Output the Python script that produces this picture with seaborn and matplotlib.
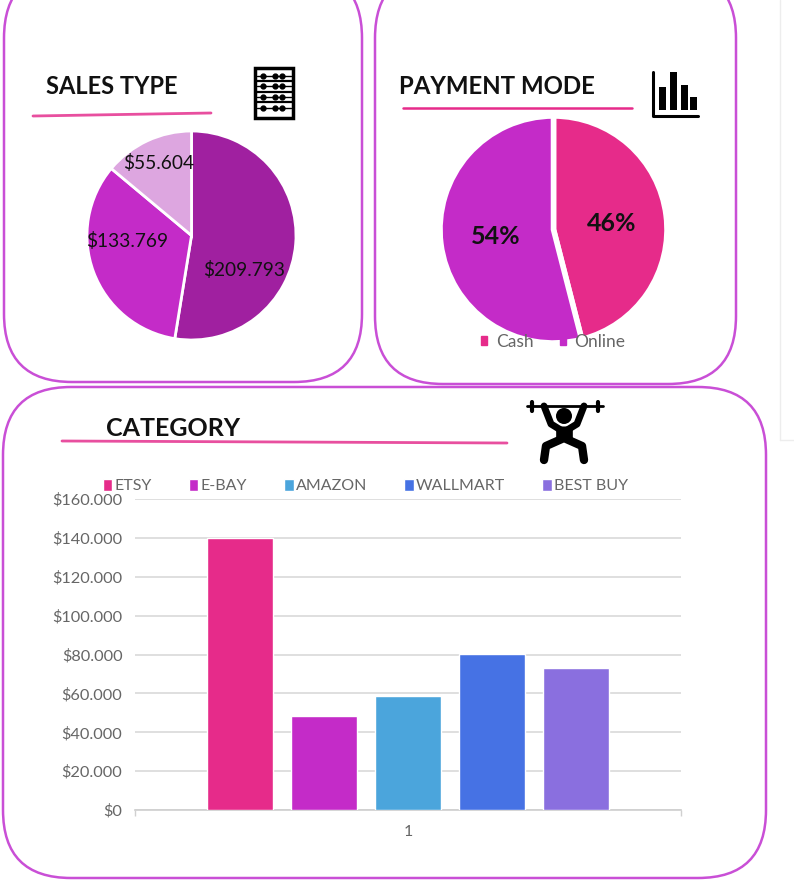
import matplotlib
matplotlib.use("Agg")
import matplotlib.pyplot as plt
import seaborn as sns
import pandas as pd
from matplotlib.patches import FancyBboxPatch, Rectangle, Circle, Patch

# values
sales_types = ["A", "B", "C"]
sales_values = [209793, 133769, 55604]
sales_labels = ["$209.793", "$133.769", "$55.604"]
sales_colors = ["#A020A0", "#C42BC8", "#DDA6E0"]

pay_modes = ["Cash", "Online"]
pay_values = [46, 54]
pay_colors = ["#E62B8A", "#C42BC8"]

shops = ["ETSY", "E-BAY", "AMAZON", "WALLMART", "BEST BUY"]
shop_sales = [140000, 48500, 58500, 80500, 73000]
shop_colors = ["#E62B8A", "#C42BC8", "#4BA5DC", "#4672E4", "#8A6FDF"]
y_ticks = [0, 20000, 40000, 60000, 80000, 100000, 120000, 140000, 160000]
y_labels = ["$0", "$20.000", "$40.000", "$60.000", "$80.000", "$100.000", "$120.000", "$140.000", "$160.000"]

W, H = 794, 891
sns.set_theme(style="white")
plt.rcParams['font.family'] = ['Lato', 'DejaVu Sans']

fig = plt.figure(figsize=(W / 100, H / 100), dpi=100, facecolor="white")


def axes_px(x0, y0, x1, y1):
    # axes from pixel box, y measured from the top
    return fig.add_axes([x0 / W, 1 - y1 / H, (x1 - x0) / W, (y1 - y0) / H])


# background layer for cards, headings and icons
bg = axes_px(0, 0, W, H)
bg.set_xlim(0, W)
bg.set_ylim(H, 0)
bg.axis("off")

card_color = "#C94FD6"


def card(x0, y0, x1, y1, r=68):
    bg.add_patch(FancyBboxPatch((x0 + r, y0 + r), x1 - x0 - 2 * r, y1 - y0 - 2 * r,
                                boxstyle=f"round,pad={r},rounding_size={r}",
                                fc="white", ec=card_color, lw=1.8, clip_on=True))


card(4, -30, 362, 382)
card(375, -30, 736, 384)
card(3, 387, 766, 878)

# faint page edge on the right
bg.plot([780, 780], [0, 440], color="#EDEDED", lw=1)
bg.plot([780, 794], [440, 440], color="#EDEDED", lw=1)

# headings
bg.text(46, 87, "SALES TYPE", fontsize=17, fontweight="bold", color="#111111", va="center")
bg.text(399, 87, "PAYMENT MODE", fontsize=17.3, fontweight="bold", color="#111111", va="center")
bg.text(106, 428, "CATEGORY", fontsize=18, fontweight="bold", color="#111111", va="center")
bg.plot([33, 211], [116, 113], color="#E84F9F", lw=2)
bg.plot([403, 632], [108, 108], color="#E62B8A", lw=1.8)
bg.plot([62, 507], [441, 443], color="#E84F9F", lw=2)

# abacus icon
bg.add_patch(Rectangle((255, 68), 38, 50, fc="white", ec="black", lw=2.5))
for y in [76, 86, 97, 108]:
    bg.plot([257, 291], [y, y], color="black", lw=1)
    bg.plot([263, 275, 282], [y, y, y], ls="none", marker="o", ms=3.5, color="black")
for y in [81, 92, 102]:
    bg.plot([256, 292], [y, y], color="black", lw=1.6)

# bar chart icon
bg.plot([653, 653, 698], [72, 116, 116], color="black", lw=2.2)
for x, top in [(663, 87), (674, 72), (685, 85), (694, 97)]:
    bg.add_patch(Rectangle((x - 4, top), 7, 110 - top, fc="black", ec="none"))

# weightlifter icon
bg.plot([527, 603], [406, 406], color="black", lw=2)
bg.plot([532, 532], [402, 411], color="black", lw=3)
bg.plot([598, 598], [402, 411], color="black", lw=3)
bg.add_patch(Circle((564, 416), 8, fc="black", ec="none"))
bg.plot([544, 551, 564, 577, 584], [406, 424, 432, 424, 406], color="black", lw=5, solid_joinstyle="round")
bg.plot([564, 564], [426, 440], color="black", lw=12, solid_capstyle="butt")
bg.plot([544, 546, 564, 582, 584], [460, 446, 438, 446, 460], color="black", lw=6, solid_joinstyle="round")

# sales type pie
ax1 = axes_px(87, 131, 296, 340)
ax1.pie(sales_values, colors=sales_colors, startangle=90, counterclock=False,
        wedgeprops={"edgecolor": "white", "linewidth": 2})
ax1.set_xlim(-1, 1)
ax1.set_ylim(-1, 1)
label_pos = [(0.5, -0.33), (-0.62, -0.05), (-0.31, 0.69)]
for lab, (x, y) in zip(sales_labels, label_pos):
    ax1.text(x, y, lab, ha="center", va="center", fontsize=13.8, color="#111111")

# payment mode pie
ax2 = axes_px(439, 116, 668, 343)
wedges, _ = ax2.pie(pay_values, colors=pay_colors, startangle=90, counterclock=False,
                    wedgeprops={"edgecolor": "white", "linewidth": 4})
ax2.set_xlim(-1, 1)
ax2.set_ylim(-1, 1)
ax2.text(0.51, 0.05, "46%", ha="center", va="center", fontsize=18, fontweight="bold", color="#111111")
ax2.text(-0.51, -0.06, "54%", ha="center", va="center", fontsize=18, fontweight="bold", color="#111111")
pay_handles = [Patch(color=c) for c in pay_colors]
ax2.legend(pay_handles, pay_modes, loc="lower center", bbox_to_anchor=(0.5, -0.03), ncol=2, frameon=False,
           fontsize=12.5, labelcolor="#666666", handlelength=0.35, handleheight=0.35,
           handletextpad=0.5, columnspacing=1.5, borderpad=0, borderaxespad=0)

# category bars
df = pd.DataFrame({"group": ["1"] * len(shops), "shop": shops, "sales": shop_sales})
ax3 = axes_px(135, 499, 681, 810)
ax3.patch.set_alpha(0)
sns.barplot(data=df, x="group", y="sales", hue="shop", hue_order=shops, palette=shop_colors,
            width=0.77, gap=0.21, saturation=1, ax=ax3, zorder=3)
ax3.set_xlim(-0.5, 0.5)
ax3.set_ylim(0, 160000)
ax3.set_yticks(y_ticks)
ax3.set_yticklabels(y_labels)
ax3.set_xlabel("")
ax3.set_ylabel("")
ax3.grid(axis="y", color="#D9D9D9", lw=1.2, zorder=0)
ax3.set_axisbelow(True)
for side in ["top", "left", "right"]:
    ax3.spines[side].set_visible(False)
ax3.spines["bottom"].set_color("#D0D0D0")
ax3.set_xticks([-0.5, 0.5], minor=True)
ax3.tick_params(axis="x", which="minor", length=4, color="#D0D0D0", bottom=True)
ax3.tick_params(axis="x", which="major", length=0, labelsize=11.5, labelcolor="#666666", pad=11)
ax3.tick_params(axis="y", length=0, labelsize=11.8, labelcolor="#666666", pad=9)
ax3.legend(loc="lower left", bbox_to_anchor=(-0.065, 1.008), ncol=5, frameon=False, title=None,
           fontsize=11.5, labelcolor="#666666", handlelength=0.6, handleheight=0.8,
           handletextpad=0.15, columnspacing=2.3, borderpad=0, borderaxespad=0.2)

fig.savefig("out.png", dpi=100)
